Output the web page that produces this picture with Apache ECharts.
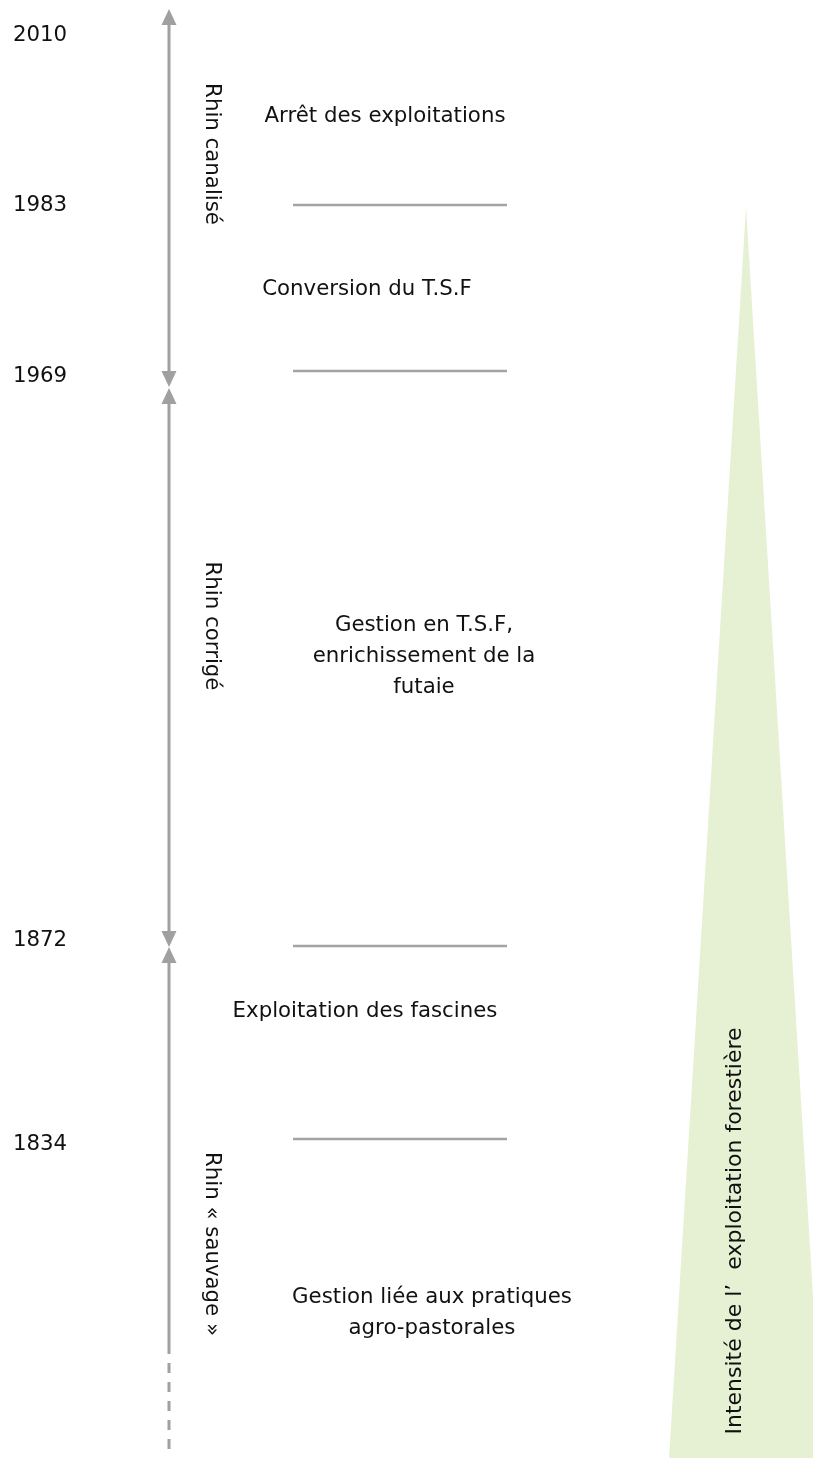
<!DOCTYPE html>
<html>
<head>
<meta charset="utf-8">
<script src="https://cdn.jsdelivr.net/npm/echarts@6/dist/echarts.min.js"></script>
<style>
html,body{margin:0;padding:0;background:#fff;}
#chart{width:813px;height:1458px;}
</style>
</head>
<body>
<div id="chart"></div>
<script>
// ---- Data (schematic layout units: x 0..813, y 0..1458 from top) ----
var years = ['2010', '1983', '1969', '1872', '1834'];
var yearLabelPos = [35, 205, 376, 940, 1144];

var boundaryYears = ['1983', '1969', '1872', '1834'];
var boundaryPos = [205, 371, 946, 1139];
var boundarySpan = [293, 507];

var phases = ['Arrêt des exploitations', 'Conversion du T.S.F', 'Gestion en T.S.F,\nenrichissement de la\nfutaie', 'Exploitation des fascines', 'Gestion liée aux pratiques\nagro-pastorales'];
var phaseX = [385, 367, 424, 365, 432];
var phaseY = [116, 289, 656, 1011, 1313];

var eras = ['Rhin canalisé', 'Rhin corrigé', 'Rhin « sauvage »'];
var eraPos = [154, 626, 1244];
var eraLabelX = 212;

var timelineX = 169;
var eraSegTop = [9, 388, 947, 1344];
var eraSegBottom = [387, 947, 1344, 1458];
var eraSegArrowTop = [1, 1, 1, 0];
var eraSegArrowBottom = [1, 1, 0, 0];
var eraSegDashed = [0, 0, 0, 1];

var intensityLabel = 'Intensité de l’  exploitation forestière';
var intensityApex = [746, 207];
var intensityBase = [669, 823, 1458];
var intensityLabelPos = [735, 1231];

var FONT = '21.3px "DejaVu Sans", Verdana, sans-serif';
var FONT_INT = '22px "DejaVu Sans", Verdana, sans-serif';
var GREY = '#a0a0a0';

var segData = eraSegTop.map(function (t, i) {
  return [timelineX, t, eraSegBottom[i], eraSegArrowTop[i], eraSegArrowBottom[i], eraSegDashed[i]];
});

var chart = echarts.init(document.getElementById('chart'), null, {renderer: 'canvas'});
chart.setOption({
  animation: false,
  backgroundColor: '#ffffff',
  grid: {left: 0, right: 0, top: 0, bottom: 0},
  xAxis: {type: 'value', min: 0, max: 813, show: false},
  yAxis: {type: 'value', min: 0, max: 1458, inverse: true, show: false},
  series: [
    {
      type: 'custom',
      data: [[intensityApex[0], intensityApex[1], intensityBase[0], intensityBase[1], intensityBase[2]]],
      renderItem: function (params, api) {
        var a = api.coord([api.value(0), api.value(1)]);
        var l = api.coord([api.value(2), api.value(4)]);
        var r = api.coord([api.value(3), api.value(4)]);
        return {type: 'polygon', shape: {points: [a, l, r]}, style: {fill: '#e6f1d4'}};
      },
      z: 1
    },
    {
      type: 'custom',
      data: segData,
      renderItem: function (params, api) {
        var x = api.value(0);
        var top = api.coord([x, api.value(1)]);
        var bot = api.coord([x, api.value(2)]);
        var aTop = api.value(3), aBot = api.value(4), dashed = api.value(5);
        var ah = 16, aw = 7.5;
        var children = [];
        var y1 = top[1] + (aTop ? ah - 1 : 0);
        var y2 = bot[1] - (aBot ? ah - 1 : 0);
        children.push({type: 'line', shape: {x1: top[0], y1: y1, x2: top[0], y2: y2},
          style: {stroke: GREY, lineWidth: 3, lineDash: dashed ? [10, 9] : null}});
        if (aTop) children.push({type: 'polygon', shape: {points: [[top[0], top[1]], [top[0] - aw, top[1] + ah], [top[0] + aw, top[1] + ah]]}, style: {fill: GREY}});
        if (aBot) children.push({type: 'polygon', shape: {points: [[bot[0], bot[1]], [bot[0] - aw, bot[1] - ah], [bot[0] + aw, bot[1] - ah]]}, style: {fill: GREY}});
        return {type: 'group', children: children};
      },
      z: 2
    },
    {
      type: 'custom',
      data: boundaryPos.map(function (p, i) { return [boundarySpan[0], boundarySpan[1], p, boundaryYears[i]]; }),
      renderItem: function (params, api) {
        var a = api.coord([api.value(0), api.value(2)]);
        var b = api.coord([api.value(1), api.value(2)]);
        return {type: 'line', shape: {x1: a[0], y1: a[1], x2: b[0], y2: b[1]}, style: {stroke: '#a3a3a3', lineWidth: 2.4}};
      },
      z: 2
    },
    {
      type: 'custom',
      data: years.map(function (y, i) { return [40, yearLabelPos[i]]; }),
      renderItem: function (params, api) {
        var p = api.coord([api.value(0), api.value(1)]);
        return {type: 'text', x: p[0], y: p[1], style: {text: years[params.dataIndex], x: 0, y: 0, textAlign: 'center', textVerticalAlign: 'middle', font: FONT, fill: '#111'}};
      },
      z: 3
    },
    {
      type: 'custom',
      data: phases.map(function (t, i) { return [phaseX[i], phaseY[i]]; }),
      renderItem: function (params, api) {
        var p = api.coord([api.value(0), api.value(1)]);
        return {type: 'text', x: p[0], y: p[1], style: {text: phases[params.dataIndex], x: 0, y: 0, textAlign: 'center', textVerticalAlign: 'middle', font: FONT, lineHeight: 31, fill: '#111'}};
      },
      z: 3
    },
    {
      type: 'custom',
      data: eras.map(function (t, i) { return [eraLabelX, eraPos[i]]; }),
      renderItem: function (params, api) {
        var p = api.coord([api.value(0), api.value(1)]);
        return {type: 'text', x: p[0], y: p[1], rotation: -Math.PI / 2, style: {text: eras[params.dataIndex], x: 0, y: 0, textAlign: 'center', textVerticalAlign: 'middle', font: FONT, fill: '#111'}};
      },
      z: 3
    },
    {
      type: 'custom',
      data: [[intensityLabelPos[0], intensityLabelPos[1]]],
      renderItem: function (params, api) {
        var p = api.coord([api.value(0), api.value(1)]);
        return {type: 'text', x: p[0], y: p[1], rotation: Math.PI / 2, style: {text: intensityLabel, x: 0, y: 0, textAlign: 'center', textVerticalAlign: 'middle', font: FONT_INT, fill: '#111'}};
      },
      z: 3
    }
  ]
});
</script>
</body>
</html>
